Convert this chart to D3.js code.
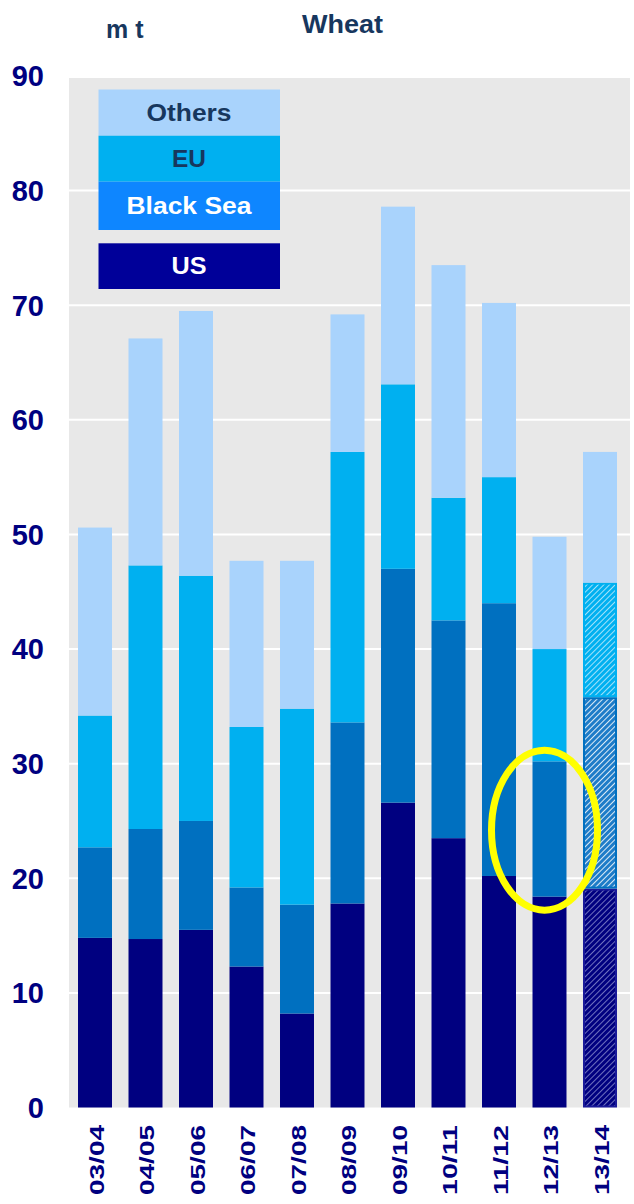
<!DOCTYPE html>
<html>
<head>
<meta charset="utf-8">
<script src="https://cdn.jsdelivr.net/npm/d3@7"></script>
<style>
  html, body { margin: 0; padding: 0; background: #ffffff; }
  svg { display: block; }
  text { font-family: "Liberation Sans", Arial, sans-serif; font-weight: bold; }
</style>
</head>
<body>
<svg id="chart" width="634" height="1204"></svg>
<script>
// Wheat exports by origin, million tonnes
const seasons  = ["03/04","04/05","05/06","06/07","07/08","08/09","09/10","10/11","11/12","12/13","13/14"];
const us       = [14.8, 14.7, 15.5, 12.3,  8.2, 17.8, 26.6, 23.5, 20.2, 18.4, 19.1];
const blackSea = [ 7.9,  9.6,  9.5,  6.9,  9.5, 15.8, 20.4, 19.0, 23.8, 11.8, 16.7];
const eu       = [11.5, 23.0, 21.4, 14.0, 17.1, 23.6, 16.1, 10.7, 11.0,  9.8, 10.0];
const others   = [16.4, 19.8, 23.1, 14.5, 12.9, 12.0, 15.5, 20.3, 15.2,  9.8, 11.4];
const forecastSeason = "13/14";
const yTicks = [0, 10, 20, 30, 40, 50, 60, 70, 80, 90];
const seriesKeys   = ["US", "Black Sea", "EU", "Others"];

const barColor    = { "US": "#000080", "Black Sea": "#0070C0", "EU": "#00B0F0", "Others": "#A9D3FC" };
const legendColor = { "US": "#000099", "Black Sea": "#0E86FF", "EU": "#00B0F0", "Others": "#A9D3FC" };
const legendText  = { "US": "#ffffff", "Black Sea": "#ffffff", "EU": "#17375E", "Others": "#17375E" };
const slug = k => k.toLowerCase().replace(/\s+/g, "-");

const rows = seasons.map((s, i) => ({
  season: s, "US": us[i], "Black Sea": blackSea[i], "EU": eu[i], "Others": others[i]
}));

const svg = d3.select("#chart");

const x = d3.scaleBand()
  .domain(seasons)
  .range([69.75, 625.25])
  .paddingInner(0.327)
  .paddingOuter(0.1635);

const y = d3.scaleLinear().domain([0, 90]).range([1107.5, 76]);

// plot background
svg.append("rect")
  .attr("x", 69).attr("y", y(90) + 2)
  .attr("width", 630 - 69).attr("height", y(0) - y(90) - 2)
  .attr("fill", "#E8E8E8");

// gridlines
svg.append("g")
  .selectAll("line")
  .data(yTicks.filter(t => t > 0 && t < 90))
  .join("line")
  .attr("x1", 69).attr("x2", 630)
  .attr("y1", d => y(d)).attr("y2", d => y(d))
  .attr("stroke", "#ffffff").attr("stroke-width", 2);

// hatch patterns for the forecast season
const defs = svg.append("defs");
function hatch(key, bg, lineColor, opacity, width) {
  const p = defs.append("pattern")
    .attr("id", "hatch-" + slug(key))
    .attr("patternUnits", "userSpaceOnUse")
    .attr("width", 4).attr("height", 4)
    .attr("patternTransform", "rotate(45)");
  p.append("rect").attr("width", 4).attr("height", 4).attr("fill", bg);
  p.append("line")
    .attr("x1", 0).attr("y1", 0).attr("x2", 0).attr("y2", 4)
    .attr("stroke", lineColor).attr("stroke-width", width)
    .attr("stroke-opacity", opacity);
}
hatch("US", barColor["US"], "#C8CCF0", 0.85, 1.3);
hatch("Black Sea", "#1E7CC8", "#ffffff", 1, 1.7);
hatch("EU", barColor["EU"], "#ffffff", 0.85, 1.5);

const stacked = d3.stack().keys(seriesKeys)(rows);

const layers = svg.append("g")
  .selectAll("g")
  .data(stacked)
  .join("g");

layers.selectAll("rect")
  .data(d => d.map(v => ({ key: d.key, season: v.data.season, y0: v[0], y1: v[1] })))
  .join("rect")
  .attr("x", d => x(d.season))
  .attr("width", x.bandwidth())
  .attr("y", d => y(d.y1))
  .attr("height", d => y(d.y0) - y(d.y1))
  .each(function(d) {
    const r = d3.select(this);
    const isForecast = d.season === forecastSeason && d.key !== "Others";
    if (isForecast) {
      const inset = 1;
      r.attr("x", x(d.season) + inset)
        .attr("width", x.bandwidth() - 2 * inset)
        .attr("y", y(d.y1) + inset)
        .attr("height", y(d.y0) - y(d.y1) - 2 * inset)
        .attr("fill", `url(#hatch-${slug(d.key)})`)
        .attr("stroke", d.key === "US" ? "#1A1A99" : barColor[d.key])
        .attr("stroke-width", 2);
    } else {
      r.attr("fill", barColor[d.key]);
    }
  });

// y axis labels
svg.append("g")
  .selectAll("text")
  .data(yTicks)
  .join("text")
  .attr("x", 44)
  .attr("y", d => y(d))
  .attr("dy", "0.36em")
  .attr("text-anchor", "end")
  .attr("font-size", 29)
  .attr("fill", "#000080")
  .text(d => d);

// x axis labels (rotated)
svg.append("g")
  .selectAll("text")
  .data(seasons)
  .join("text")
  .attr("transform", d => `translate(${x(d) + x.bandwidth() / 2 + 1},1125) rotate(-90)`)
  .attr("text-anchor", "end")
  .attr("dy", "0.36em")
  .attr("font-size", 21)
  .attr("textLength", 70)
  .attr("lengthAdjust", "spacingAndGlyphs")
  .attr("fill", "#000080")
  .text(d => d);

// titles
svg.append("text")
  .attr("x", 106).attr("y", 38)
  .attr("font-size", 25)
  .attr("fill", "#17375E")
  .text("m t");
svg.append("text")
  .attr("x", 302).attr("y", 33)
  .attr("font-size", 25)
  .attr("textLength", 81)
  .attr("lengthAdjust", "spacingAndGlyphs")
  .attr("fill", "#17375E")
  .text("Wheat");

// legend
const legendBoxes = [
  { key: "Others",    top: 89.5,  bottom: 135.7, textW: 85 },
  { key: "EU",        top: 135.7, bottom: 181.7, textW: 34 },
  { key: "Black Sea", top: 181.7, bottom: 230,   textW: 125 },
  { key: "US",        top: 243.3, bottom: 289,   textW: 35 }
];
const legend = svg.append("g");
legend.selectAll("rect")
  .data(legendBoxes)
  .join("rect")
  .attr("x", 98.5).attr("width", 181.5)
  .attr("y", d => d.top).attr("height", d => d.bottom - d.top)
  .attr("fill", d => legendColor[d.key]);
legend.selectAll("text")
  .data(legendBoxes)
  .join("text")
  .attr("x", 189)
  .attr("y", d => (d.top + d.bottom) / 2)
  .attr("dy", "0.36em")
  .attr("text-anchor", "middle")
  .attr("font-size", 23)
  .attr("textLength", d => d.textW)
  .attr("lengthAdjust", "spacingAndGlyphs")
  .attr("fill", d => legendText[d.key])
  .text(d => d.key);

// highlight ring around the 12/13 Black Sea segment
svg.append("ellipse")
  .attr("cx", x("12/13") + x.bandwidth() / 2 - 5)
  .attr("cy", y(24.2))
  .attr("rx", 53).attr("ry", 80)
  .attr("fill", "none")
  .attr("stroke", "#FFFF00")
  .attr("stroke-width", 7);
</script>
</body>
</html>
